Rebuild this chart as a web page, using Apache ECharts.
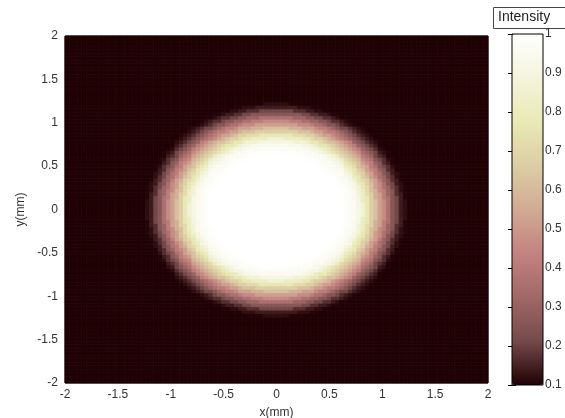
<!DOCTYPE html>
<html>
<head>
<meta charset="utf-8">
<script src="https://cdn.jsdelivr.net/npm/echarts@6/dist/echarts.min.js"></script>
<style>
html,body{margin:0;padding:0;background:#fff;}
#chart{width:565px;height:418px;}
</style>
</head>
<body>
<div id="chart"></div>
<script>
// ---- data ----
// radial intensity profile of the beam (radius in mm -> intensity), step lookup
const profileRadius = [0, 0.6, 0.625, 0.65, 0.675, 0.7, 0.725, 0.75, 0.775, 0.8, 0.825, 0.85, 0.875, 0.9, 0.925, 0.95, 0.975, 1.0, 1.025, 1.05, 1.075, 1.1, 1.125, 1.15, 1.175, 1.2, 1.225, 1.25];
const profileIntensity = [1.0, 1.0, 0.995, 0.99, 0.98, 0.97, 0.955, 0.94, 0.91, 0.87, 0.82, 0.77, 0.72, 0.67, 0.62, 0.57, 0.52, 0.46, 0.41, 0.36, 0.31, 0.26, 0.21, 0.17, 0.14, 0.12, 0.105, 0.1];
const beamCenter = [0, 0];            // mm
const gridStep = 0.04;                // mm per cell
const axisTicks = [-2, -1.5, -1, -0.5, 0, 0.5, 1, 1.5, 2];
const colorbarTicks = [0.1, 0.2, 0.3, 0.4, 0.5, 0.6, 0.7, 0.8, 0.9, 1];
const pinkColormap = ['#1f0004', '#744a4a', '#a16868', '#c38280', '#d0ab93', '#ddcda5', '#e9e9b5', '#f4f4dd', '#ffffff'];

// ---- build cells ----
const nCells = Math.round(4 / gridStep);
const cellCenters = [];
for (let i = 0; i < nCells; i++) cellCenters.push(+(-2 + gridStep * (i + 0.5)).toFixed(3));
function lookup(r) {
  let v = profileIntensity[profileIntensity.length - 1];
  for (let k = 0; k < profileRadius.length; k++) {
    if (r >= profileRadius[k]) v = profileIntensity[k]; else break;
  }
  return v;
}
const cells = [];
for (let i = 0; i < nCells; i++) {
  for (let j = 0; j < nCells; j++) {
    const dx = cellCenters[i] - beamCenter[0];
    const dy = cellCenters[j] - beamCenter[1];
    cells.push([cellCenters[i], cellCenters[j], lookup(Math.sqrt(dx * dx + dy * dy))]);
  }
}

const font = 'Liberation Sans, Arial, sans-serif';
const txt = '#333';
const chart = echarts.init(document.getElementById('chart'), null, {renderer: 'canvas'});
chart.setOption({
  animation: false,
  backgroundColor: '#fff',
  grid: [
    {left: 65, top: 36, width: 423, height: 347, show: true, borderColor: '#000', borderWidth: 1,
     backgroundColor: 'transparent', outerBoundsMode: 'none', containLabel: false},
    {left: 512, top: 34, width: 31, height: 351, show: true, borderColor: '#000', borderWidth: 1,
     backgroundColor: 'transparent', z: 10, outerBoundsMode: 'none', containLabel: false}
  ],
  xAxis: [
    {type: 'value', gridIndex: 0, min: -2, max: 2, interval: 0.5, position: 'bottom',
     name: 'x(mm)', nameLocation: 'middle', nameGap: 24,
     nameTextStyle: {fontFamily: font, fontSize: 12, color: txt},
     axisLine: {show: false}, axisTick: {show: false}, splitLine: {show: false},
     axisLabel: {fontFamily: font, fontSize: 12, color: txt, margin: 6}},
    {type: 'value', gridIndex: 1, show: false, min: 0, max: 1}
  ],
  yAxis: [
    {type: 'value', gridIndex: 0, min: -2, max: 2, interval: 0.5, position: 'left',
     name: 'y(mm)', nameLocation: 'middle', nameGap: 38,
     nameTextStyle: {fontFamily: font, fontSize: 12, color: txt},
     axisLine: {show: false}, axisTick: {show: false}, splitLine: {show: false},
     axisLabel: {fontFamily: font, fontSize: 12, color: txt, margin: 7}},
    {type: 'value', gridIndex: 1, min: 0.1, max: 1, interval: 0.1, position: 'right',
     axisLine: {show: false}, splitLine: {show: false},
     axisTick: {show: true, inside: true, length: 4, lineStyle: {color: '#000'}},
     axisLabel: {fontFamily: font, fontSize: 12, color: txt, margin: 2,
       formatter: v => String(+v.toFixed(1))}},
    {type: 'value', gridIndex: 1, min: 0.1, max: 1, interval: 0.1, position: 'left',
     axisLine: {show: false}, splitLine: {show: false},
     axisTick: {show: true, inside: true, length: 4, lineStyle: {color: '#000'}},
     axisLabel: {show: false}}
  ],
  visualMap: {
    type: 'continuous', min: 0.1, max: 1, seriesIndex: 0, dimension: 2,
    left: 512, top: 34, itemWidth: 31, itemHeight: 351, padding: 0,
    calculable: false, hoverLink: false, text: null, showLabel: false,
    inRange: {color: pinkColormap}
  },
  series: [{
    type: 'custom', xAxisIndex: 0, yAxisIndex: 0, data: cells,
    encode: {x: 0, y: 1}, silent: true, clip: true,
    renderItem: function (params, api) {
      const x = api.value(0), y = api.value(1), h = gridStep / 2;
      const p0 = api.coord([x - h, y + h]);
      const p1 = api.coord([x + h, y - h]);
      const c = api.visual('color');
      return {
        type: 'rect',
        shape: {x: p0[0], y: p0[1], width: p1[0] - p0[0], height: p1[1] - p0[1]},
        style: {fill: c, stroke: c, lineWidth: 0.8}
      };
    }
  }],
  graphic: [
    {type: 'rect', left: 493, top: 7, shape: {width: 80, height: 21},
     style: {fill: '#fff', stroke: '#444', lineWidth: 1}},
    {type: 'text', left: 498, top: 10,
     style: {text: 'Intensity', fontFamily: font, fontSize: 14, fill: '#222'}}
  ]
});
</script>
</body>
</html>
